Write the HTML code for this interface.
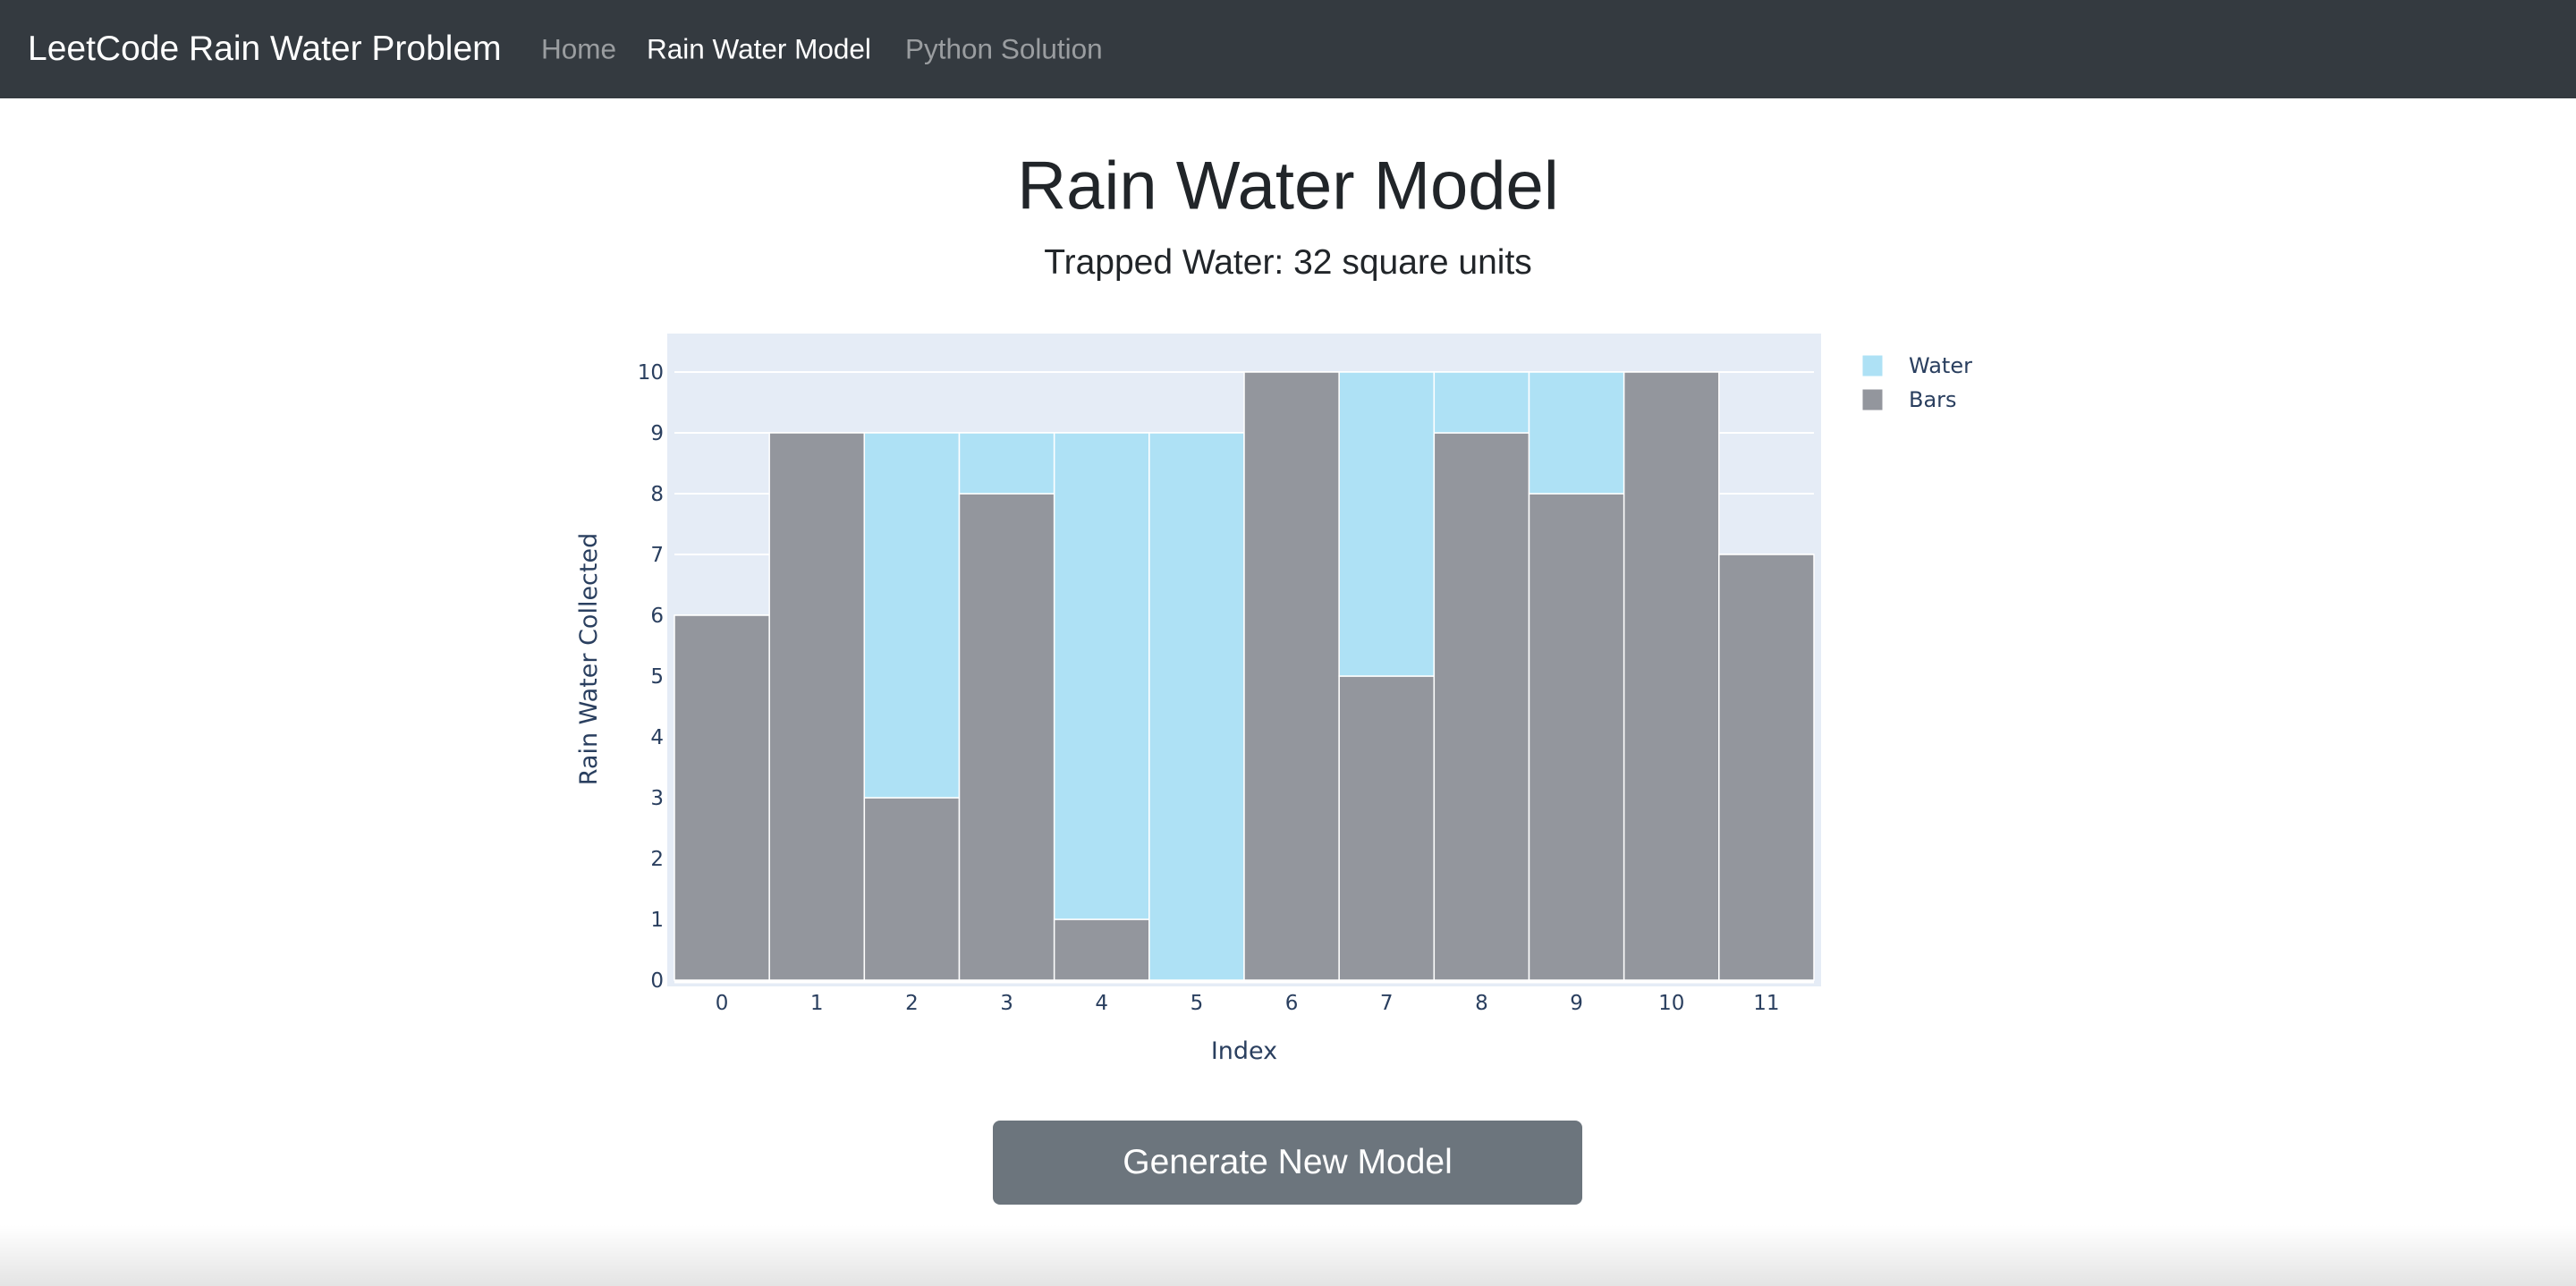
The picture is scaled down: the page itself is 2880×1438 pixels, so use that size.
<!DOCTYPE html>
<html><head><meta charset="utf-8"><style>
html,body{margin:0;padding:0;width:2880px;height:1438px;overflow:hidden;background:#fff;font-family:"Liberation Sans",sans-serif;position:relative}
#nav{position:absolute;left:0;top:0;width:2880px;height:110px;background:#343a40}
.nv{position:absolute;top:55px;transform:translateY(-50%);white-space:nowrap}
#title{position:absolute;left:0;width:2880px;top:208px;transform:translateY(-50%);text-align:center;font-size:76px;color:#212529}
#sub{position:absolute;left:0;width:2880px;top:294px;transform:translateY(-50%);text-align:center;font-size:39px;color:#212529}
#btn{position:absolute;left:1110px;top:1253px;width:659px;height:94px;background:#6c757d;border-radius:8px;color:#fff;font-size:39px;display:flex;align-items:center;justify-content:center}
#shade{position:absolute;left:0;top:1370px;width:2880px;height:68px;background:linear-gradient(#fff,#e4e4e4)}
svg{position:absolute;left:0;top:0}
</style></head><body>
<div id="nav">
<span class="nv" style="left:31px;font-size:39px;color:#fff">LeetCode Rain Water Problem</span>
<span class="nv" style="left:605px;font-size:31.5px;color:rgba(255,255,255,.5)">Home</span>
<span class="nv" style="left:723px;font-size:31.5px;color:#fff">Rain Water Model</span>
<span class="nv" style="left:1012px;font-size:31.5px;color:rgba(255,255,255,.5)">Python Solution</span>
</div>
<div id="title">Rain Water Model</div>
<div id="sub">Trapped Water: 32 square units</div>
<svg id="chart" width="2880" height="1438"></svg>
<div id="btn">Generate New Model</div>
<div id="shade"></div>
<script>
const categories=[0,1,2,3,4,5,6,7,8,9,10,11];
const barValues=[6,9,3,8,1,0,10,5,9,8,10,7];
const waterValues=[0,0,6,1,8,9,0,5,1,2,0,0];
const yTicks=[0,1,2,3,4,5,6,7,8,9,10];
const NS="http://www.w3.org/2000/svg";
const svg=document.getElementById('chart');
const X0=754,X1=2028,Y0=1096,UNIT=68;
const bw=(X1-X0)/categories.length;
function xs(i){return X0+i*bw;}
function ys(v){return Y0-v*UNIT;}
function mk(t,a){const e=document.createElementNS(NS,t);for(const k in a)e.setAttribute(k,a[k]);svg.appendChild(e);return e;}
const bg=mk('rect',{x:746,y:373,width:1290,height:730,fill:'#e5ecf6'});


yTicks.forEach(v=>{
 const g=mk('line',{x1:X0,x2:X1,y1:ys(v),y2:ys(v),stroke:'#fff','stroke-width':2});
 
 
 const t=mk('text',{x:742,y:ys(v)+8,'text-anchor':'end','font-size':23,fill:'#2a3f5f','font-family':'"DejaVu Sans",sans-serif'});
 t.textContent=v;
 
 
});
categories.forEach((c,i)=>{
 const b=mk('rect',{x:xs(i),y:ys(barValues[i]),width:bw,height:barValues[i]*UNIT,fill:'#93969d',stroke:'#fff','stroke-width':1.5});
 
 
 if(waterValues[i]>0){
  const w=mk('rect',{x:xs(i),y:ys(barValues[i]+waterValues[i]),width:bw,height:waterValues[i]*UNIT,fill:'#aee1f5',stroke:'#fff','stroke-width':1.5});
  
  
 }
 const t=mk('text',{x:xs(i)+bw/2,y:1129,'text-anchor':'middle','font-size':23,fill:'#2a3f5f','font-family':'"DejaVu Sans",sans-serif'});
 t.textContent=c;
 
 
});
const zl=mk('line',{x1:X0,x2:X1,y1:Y0+2,y2:Y0+2,stroke:'#fff','stroke-width':3});


const xt=mk('text',{x:(X0+X1)/2,y:1184,'text-anchor':'middle','font-size':27,fill:'#2a3f5f','font-family':'"DejaVu Sans",sans-serif'});
xt.textContent='Index';


const yt=mk('text',{x:0,y:0,'text-anchor':'middle','font-size':27,fill:'#2a3f5f','font-family':'"DejaVu Sans",sans-serif',transform:'translate(667,737) rotate(-90)'});
yt.textContent='Rain Water Collected';


[['Water','#aee1f5',409],['Bars','#93969d',447]].forEach(([n,c,y])=>{
 const s=mk('rect',{x:2082,y:y-12,width:23,height:24,fill:c,stroke:'#fff','stroke-width':1});
 
 
 const t=mk('text',{x:2134,y:y+8,'font-size':24,fill:'#2a3f5f','font-family':'"DejaVu Sans",sans-serif'});
 t.textContent=n;
 
 
});
</script>
</body></html>
